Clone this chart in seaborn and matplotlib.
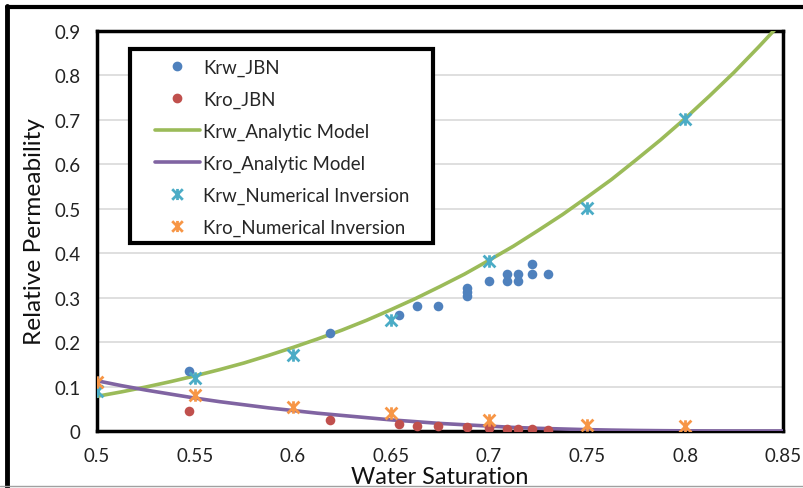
import numpy as np
import matplotlib
matplotlib.use("Agg")
import matplotlib.pyplot as plt
import seaborn as sns
from matplotlib.path import Path
from matplotlib.lines import Line2D
from matplotlib.patches import Rectangle

# ---------------- data ----------------
krw_jbn_sw = [0.547, 0.619, 0.654, 0.663, 0.674, 0.689, 0.689, 0.689, 0.700,
              0.709, 0.709, 0.715, 0.715, 0.722, 0.722, 0.730]
krw_jbn = [0.134, 0.221, 0.262, 0.281, 0.281, 0.322, 0.313, 0.303, 0.338,
           0.354, 0.338, 0.354, 0.338, 0.375, 0.354, 0.354]

kro_jbn_sw = [0.547, 0.619, 0.654, 0.663, 0.674, 0.689, 0.700, 0.709, 0.715, 0.722, 0.730]
kro_jbn = [0.044, 0.025, 0.016, 0.012, 0.011, 0.008, 0.007, 0.005, 0.005, 0.005, 0.003]

model_sw = [0.5, 0.5125, 0.525, 0.5375, 0.55, 0.5625, 0.575, 0.5875, 0.6, 0.6125,
            0.625, 0.6375, 0.65, 0.6625, 0.675, 0.6875, 0.7, 0.7125, 0.725, 0.7375,
            0.75, 0.7625, 0.775, 0.7875, 0.8, 0.8125, 0.825, 0.8375, 0.85]
krw_model = [0.078, 0.088, 0.099, 0.111, 0.124, 0.138, 0.153, 0.170, 0.188, 0.207,
             0.227, 0.249, 0.273, 0.298, 0.325, 0.353, 0.384, 0.416, 0.451, 0.487,
             0.526, 0.566, 0.610, 0.655, 0.703, 0.754, 0.807, 0.864, 0.923]
kro_model = [0.113, 0.102, 0.092, 0.083, 0.074, 0.066, 0.059, 0.052, 0.046, 0.040,
             0.035, 0.030, 0.025, 0.021, 0.017, 0.014, 0.011, 0.008, 0.006, 0.0045,
             0.003, 0.002, 0.0012, 0.0007, 0.0003, 0.0001, 0.0, 0.0, 0.0]

num_sw = [0.5, 0.55, 0.6, 0.65, 0.7, 0.75, 0.8]
krw_num = [0.089, 0.119, 0.170, 0.250, 0.382, 0.501, 0.702]
kro_num = [0.110, 0.082, 0.055, 0.040, 0.025, 0.014, 0.011]

x_ticks = [0.5, 0.55, 0.6, 0.65, 0.7, 0.75, 0.8, 0.85]
x_tick_labels = ["0.5", "0.55", "0.6", "0.65", "0.7", "0.75", "0.8", "0.85"]
y_ticks = [0, 0.1, 0.2, 0.3, 0.4, 0.5, 0.6, 0.7, 0.8, 0.9]
y_tick_labels = ["0", "0.1", "0.2", "0.3", "0.4", "0.5", "0.6", "0.7", "0.8", "0.9"]

# ---------------- style ----------------
sns.set_theme(style="white")
plt.rcParams["font.family"] = ["Lato", "DejaVu Sans"]

C_BLUE = "#4F81BD"
C_RED = "#C0504D"
C_GREEN = "#9BBB59"
C_PURPLE = "#8064A2"
C_CYAN = "#4BACC6"
C_ORANGE = "#F79646"

star = Path([(-1, -1), (1, 1), (-1, 1), (1, -1), (0, -1.05), (0, 1.05)],
            [Path.MOVETO, Path.LINETO, Path.MOVETO, Path.LINETO, Path.MOVETO, Path.LINETO])

fig = plt.figure(figsize=(8.04, 4.89), dpi=100)
ax = fig.add_axes([0.1206, 0.1166, 0.8534, 0.818])

sns.scatterplot(x=krw_jbn_sw, y=krw_jbn, ax=ax, color=C_BLUE, s=48,
                edgecolor=C_BLUE, linewidth=0, zorder=4)
sns.scatterplot(x=kro_jbn_sw, y=kro_jbn, ax=ax, color=C_RED, s=48,
                edgecolor=C_RED, linewidth=0, zorder=4)
sns.lineplot(x=model_sw, y=krw_model, ax=ax, color=C_GREEN, linewidth=2.6, zorder=3)
sns.lineplot(x=model_sw, y=kro_model, ax=ax, color=C_PURPLE, linewidth=2.6, zorder=3)
sns.scatterplot(x=num_sw, y=krw_num, ax=ax, marker=star, s=80, color=C_CYAN,
                edgecolor=C_CYAN, linewidth=2, zorder=5)
sns.scatterplot(x=num_sw, y=kro_num, ax=ax, marker=star, s=80, color=C_ORANGE,
                edgecolor=C_ORANGE, linewidth=2, zorder=5)

ax.set_xlim(0.5, 0.85)
ax.set_ylim(0, 0.9)
ax.set_xticks(x_ticks)
ax.set_xticklabels(x_tick_labels)
ax.set_yticks(y_ticks)
ax.set_yticklabels(y_tick_labels)
ax.tick_params(axis="both", length=0, labelsize=13.5, colors="#222222")
ax.tick_params(axis="x", pad=11.5)
ax.tick_params(axis="y", pad=12)
ax.yaxis.grid(True, color="#D9D9D9", linewidth=1.2)
ax.xaxis.grid(False)
ax.set_axisbelow(True)
for sp in ax.spines.values():
    sp.set_visible(True)
    sp.set_color("black")
    sp.set_linewidth(2.5)

ax.set_xlabel("Water Saturation", fontsize=16.8, color="#111111")
ax.xaxis.set_label_coords(0.5, -0.088)
ax.set_ylabel("Relative Permeability", fontsize=17.6, color="#111111")
ax.yaxis.set_label_coords(-0.0758, 0.5)

handles = [
    Line2D([], [], linestyle="none", marker="o", markersize=6, color=C_BLUE),
    Line2D([], [], linestyle="none", marker="o", markersize=6, color=C_RED),
    Line2D([], [], color=C_GREEN, linewidth=2.6),
    Line2D([], [], color=C_PURPLE, linewidth=2.6),
    Line2D([], [], linestyle="none", marker=star, markersize=8, markeredgewidth=2,
           color=C_CYAN),
    Line2D([], [], linestyle="none", marker=star, markersize=8, markeredgewidth=2,
           color=C_ORANGE),
]
labels = ["Krw_JBN", "Kro_JBN", "Krw_Analytic Model", "Kro_Analytic Model",
          "Krw_Numerical Inversion", "Kro_Numerical Inversion"]

# legend box (drawn as a rectangle in axes coords)
box = Rectangle((0.048, 0.471), 0.442, 0.484, transform=ax.transAxes,
                facecolor="white", edgecolor="black", linewidth=3, zorder=9,
                clip_on=False)
ax.add_patch(box)
leg = ax.legend(handles, labels, loc="upper left", bbox_to_anchor=(0.0845, 0.93),
                fontsize=13.4, frameon=False, handlelength=2.42, handletextpad=0.15,
                labelspacing=0.79, borderpad=0, borderaxespad=0)
leg.set_zorder(10)

# outer chart border
fig.add_artist(Line2D([0.009, 0.009], [0.0, 0.985], transform=fig.transFigure,
                      color="black", linewidth=3.5))
fig.add_artist(Line2D([0.009, 1.0], [0.983, 0.983], transform=fig.transFigure,
                      color="black", linewidth=3))
fig.add_artist(Line2D([0.0, 1.0], [0.004, 0.004], transform=fig.transFigure,
                      color="#A0A0A0", linewidth=1))

fig.savefig("out.png", dpi=100)
